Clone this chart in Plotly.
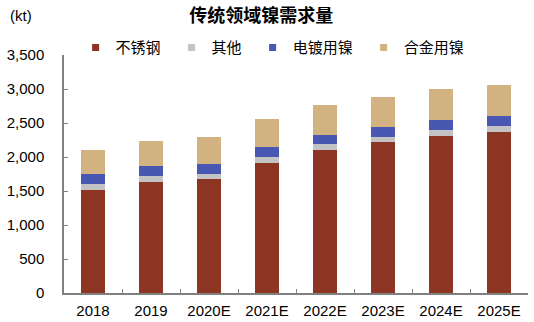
import plotly.graph_objects as go

categories = ["2018", "2019", "2020E", "2021E", "2022E", "2023E", "2024E", "2025E"]
stainless = [1515, 1630, 1670, 1910, 2110, 2215, 2315, 2370]
other = [85, 90, 80, 85, 80, 75, 78, 85]
plating = [155, 148, 150, 147, 140, 150, 152, 148]
alloy = [350, 367, 390, 418, 437, 445, 450, 456]

series_names = ["不锈钢", "其他", "电镀用镍", "合金用镍"]
series_values = [stainless, other, plating, alloy]
colors = ["#8B3522", "#C3C3C3", "#4858B2", "#D2B280"]

font_family = "Liberation Sans, Arial, Noto Sans CJK SC, sans-serif"

fig = go.Figure()
for name, vals, col in zip(series_names, series_values, colors):
    fig.add_trace(go.Bar(x=categories, y=vals, name=name, marker=dict(color=col, line=dict(width=0)),
                         showlegend=False))
for name, col in zip(series_names, colors):
    fig.add_trace(go.Scatter(x=[None], y=[None], mode="markers", name=name + "\u2009\u2009",
                             marker=dict(symbol="square", size=7, color=col), showlegend=True))

fig.update_layout(
    barmode="stack",
    bargap=0.6,
    width=534, height=322,
    margin=dict(l=64, r=6, t=55, b=29),
    paper_bgcolor="white", plot_bgcolor="white",
    font=dict(family=font_family, size=15, color="black"),
    title=dict(text="<b>传统领域镍需求量</b>", x=0.425, xref="paper", xanchor="center", y=0.95,
               yanchor="middle",
               font=dict(family="Noto Sans CJK SC, sans-serif", size=18, color="black")),
    legend=dict(orientation="h", x=0.025, xanchor="left", y=1.03, yanchor="middle",
                font=dict(family="Noto Sans CJK SC, sans-serif", size=15, color="black"),
                itemwidth=30, traceorder="normal", bgcolor="rgba(0,0,0,0)"),
    annotations=[dict(text="(kt)", xref="paper", yref="paper", x=-0.093, y=1.168, xanchor="center",
                      yanchor="middle", showarrow=False, font=dict(size=15, family=font_family))],
)
fig.update_xaxes(type="category", showline=True, linecolor="#808080", linewidth=1.5,
                 ticks="inside", tickson="boundaries", ticklen=4, tickcolor="#808080",
                 tickfont=dict(size=15), showgrid=False, ticklabelstandoff=3, automargin=False)
fig.update_yaxes(range=[0, 3500], dtick=500, tickformat=",", showline=True, linecolor="#808080",
                 linewidth=1.5, ticks="inside", ticklen=4, tickcolor="#808080", showgrid=False,
                 zeroline=False, tickfont=dict(size=15), ticklabelstandoff=15, automargin=False)

fig.write_html("out.html")
